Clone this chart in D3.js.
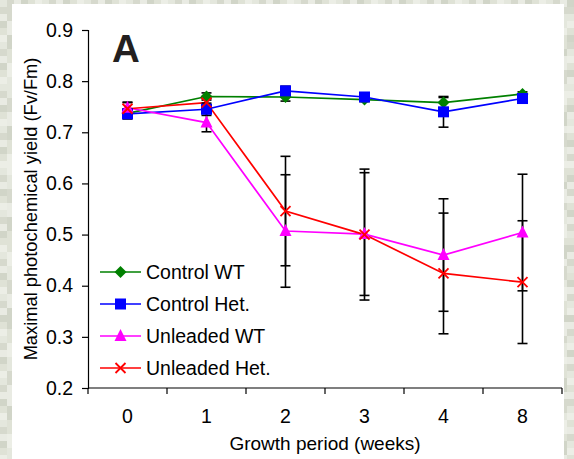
<!DOCTYPE html>
<html>
<head>
<meta charset="utf-8">
<script src="https://cdn.jsdelivr.net/npm/d3@7"></script>
<style>
html, body { margin: 0; padding: 0; background: #dcdfd4; }
svg { display: block; }
text { font-family: "Liberation Sans", Arial, sans-serif; fill: #000; }
</style>
</head>
<body>
<svg id="chart" width="574" height="459"></svg>
<script>
// ---- data ----
const categories = ["0", "1", "2", "3", "4", "8"];
const yTicks = [0.2, 0.3, 0.4, 0.5, 0.6, 0.7, 0.8, 0.9];
const seriesNames = ["Control WT", "Control Het.", "Unleaded WT", "Unleaded Het."];
const controlWT = [0.737, 0.770, 0.769, 0.764, 0.758, 0.775];
const controlWTErr = [0.008, 0.007, 0.008, 0.004, 0.010, 0.004];
const controlHet = [0.736, 0.745, 0.781, 0.769, 0.740, 0.766];
const controlHetErr = [0.010, 0.012, 0.009, 0.005, 0.030, 0.007];
const unleadedWT = [0.748, 0.719, 0.507, 0.501, 0.460, 0.504];
const unleadedWTErr = [0.011, 0.018, 0.110, 0.120, 0.110, 0.114];
const unleadedHet = [0.746, 0.758, 0.546, 0.500, 0.424, 0.407];
const unleadedHetErr = [0.012, 0.008, 0.107, 0.128, 0.118, 0.120];

const colors = ["#008000", "#0000ff", "#ff00ff", "#ff0000"];
const markers = ["diamond", "square", "triangle", "cross"];
const seriesVals = [controlWT, controlHet, unleadedWT, unleadedHet];
const seriesErrs = [controlWTErr, controlHetErr, unleadedWTErr, unleadedHetErr];

const series = seriesNames.map((name, i) => ({
  name, color: colors[i], marker: markers[i],
  points: categories.map((c, j) => ({ c, v: seriesVals[i][j], e: seriesErrs[i][j] }))
}));

// ---- layout ----
const svg = d3.select("#chart");
svg.append("rect").attr("x", 0).attr("y", 0).attr("width", 574).attr("height", 459).attr("fill", "#dcdfd4");
// subtle blocky texture for the border (decorative)
const bgShades = ["#e4e7dd", "#d6d9cd", "#e9ebe3", "#d1d5c8", "#dfe2d6", "#eceee6"];
const bg = svg.append("g");
for (let by = 0; by < 459; by += 7) {
  for (let bx = 0; bx < 574; bx += 7) {
    if (bx > 14 && bx < 560 && by > 7) continue;
    const k = Math.abs((bx * 7 + by * 13 + (bx * by) % 11)) % bgShades.length;
    bg.append("rect").attr("x", bx).attr("y", by).attr("width", 7).attr("height", 7).attr("fill", bgShades[k]);
  }
}
svg.append("rect").attr("x", 12).attr("y", 4).attr("width", 552).attr("height", 455).attr("fill", "#ffffff");

const mLeft = 88, mRight = 562, mTop = 30, mBottom = 388;
const x = d3.scaleBand().domain(categories).range([mLeft, mRight]).paddingInner(0).paddingOuter(0);
const y = d3.scaleLinear().domain([0.2, 0.9]).range([mBottom, mTop]);
const cx = c => x(c) + x.bandwidth() / 2;

// Y axis
const yAxis = d3.axisLeft(y).tickValues(yTicks).tickSize(6).tickPadding(9).tickFormat(d3.format(".1f"));
const yg = svg.append("g").attr("transform", `translate(${mLeft},0)`).call(yAxis);
yg.select(".domain").attr("stroke", "#000").attr("stroke-width", 1.2);
yg.selectAll(".tick line").attr("stroke", "#000").attr("stroke-width", 1.2);
yg.selectAll(".tick text").attr("font-size", 19.5).attr("font-family", "Liberation Sans, Arial, sans-serif").attr("fill", "#000");

// X axis: ticks at category boundaries
const xg = svg.append("g").attr("transform", `translate(0,${mBottom})`);
xg.append("line").attr("x1", mLeft).attr("x2", mRight).attr("y1", 0).attr("y2", 0)
  .attr("stroke", "#000").attr("stroke-width", 1.2);
const bounds = categories.map(c => x(c)).concat([x(categories[categories.length - 1]) + x.bandwidth()]);
xg.selectAll("line.tk").data(bounds).join("line").attr("class", "tk")
  .attr("x1", d => d).attr("x2", d => d).attr("y1", 0).attr("y2", 6)
  .attr("stroke", "#000").attr("stroke-width", 1.2);
xg.selectAll("text.lbl").data(categories).join("text").attr("class", "lbl")
  .attr("x", d => cx(d)).attr("y", 35).attr("text-anchor", "middle")
  .attr("font-size", 19.5).text(d => d);

// Axis titles
svg.append("text").attr("x", (mLeft + mRight) / 2).attr("y", 450).attr("text-anchor", "middle")
  .attr("font-size", 19).text("Growth period (weeks)");
svg.append("text").attr("transform", `translate(37,${(mTop + mBottom) / 2}) rotate(-90)`)
  .attr("text-anchor", "middle").attr("font-size", 18.3).text("Maximal photochemical yield (Fv/Fm)");

// Panel letter
svg.append("text").attr("x", 112).attr("y", 62).attr("font-size", 38.5).attr("font-weight", "bold")
  .style("fill", "#231f20").text("A");

// Lines
const line = d3.line().x(d => cx(d.c)).y(d => y(d.v));
series.forEach(s => {
  svg.append("path").datum(s.points).attr("d", line).attr("fill", "none")
    .attr("stroke", s.color).attr("stroke-width", 1.7);
});

// Error bars
const capW = 5;
series.forEach(s => {
  const g = svg.append("g");
  s.points.forEach(p => {
    const xx = cx(p.c), y1 = y(p.v + p.e), y2 = y(p.v - p.e);
    g.append("line").attr("x1", xx).attr("x2", xx).attr("y1", y1).attr("y2", y2).attr("stroke", "#000").attr("stroke-width", 1.6);
    g.append("line").attr("x1", xx - capW).attr("x2", xx + capW).attr("y1", y1).attr("y2", y1).attr("stroke", "#000").attr("stroke-width", 1.6);
    g.append("line").attr("x1", xx - capW).attr("x2", xx + capW).attr("y1", y2).attr("y2", y2).attr("stroke", "#000").attr("stroke-width", 1.6);
  });
});

// Marker drawing
function drawMarker(g, type, color, px, py) {
  if (type === "diamond") {
    g.append("path").attr("d", `M${px},${py - 6}L${px + 6},${py}L${px},${py + 6}L${px - 6},${py}Z`).attr("fill", color);
  } else if (type === "square") {
    g.append("rect").attr("x", px - 5.5).attr("y", py - 5.5).attr("width", 11).attr("height", 11).attr("fill", color);
  } else if (type === "triangle") {
    g.append("path").attr("d", `M${px},${py - 7}L${px + 6},${py + 5}L${px - 6},${py + 5}Z`).attr("fill", color);
  } else {
    g.append("path").attr("d", `M${px - 5},${py - 5}L${px + 5},${py + 5}M${px - 5},${py + 5}L${px + 5},${py - 5}`)
      .attr("stroke", color).attr("stroke-width", 1.8).attr("fill", "none");
  }
}
series.forEach(s => {
  const g = svg.append("g");
  s.points.forEach(p => drawMarker(g, s.marker, s.color, cx(p.c), y(p.v)));
});

// Legend
const legRows = [272, 304, 336, 368];
series.forEach((s, i) => {
  const g = svg.append("g");
  const ly = legRows[i];
  g.append("line").attr("x1", 100).attr("x2", 141).attr("y1", ly).attr("y2", ly).attr("stroke", s.color).attr("stroke-width", 1.7);
  drawMarker(g, s.marker, s.color, 120.5, ly);
  g.append("text").attr("x", 146).attr("y", ly + 7).attr("font-size", 19.5).text(s.name);
});
</script>
</body>
</html>
